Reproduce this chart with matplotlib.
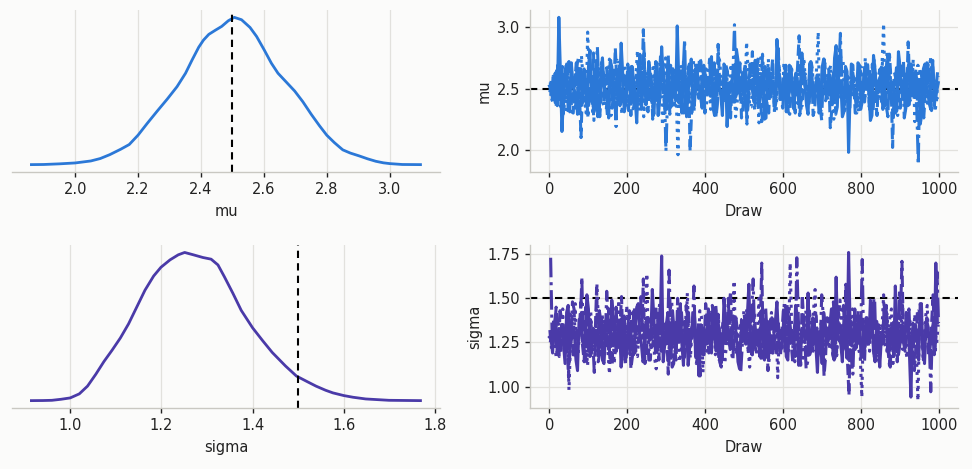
import numpy as np
import matplotlib
matplotlib.use("Agg")
import matplotlib.pyplot as plt

# posterior density of mu
mu_grid = [1.861, 1.900, 1.950, 2.000, 2.050, 2.080, 2.110, 2.145, 2.172, 2.200,
           2.229, 2.261, 2.293, 2.324, 2.351, 2.372, 2.393, 2.408, 2.425, 2.446,
           2.466, 2.487, 2.506, 2.529, 2.556, 2.577, 2.601, 2.624, 2.645, 2.672,
           2.698, 2.724, 2.751, 2.777, 2.800, 2.824, 2.840, 2.851, 2.875, 2.903,
           2.930, 2.956, 2.980, 3.000, 3.040, 3.098]
mu_dens = [0.020, 0.022, 0.032, 0.046, 0.077, 0.115, 0.175, 0.260, 0.333, 0.479,
           0.661, 0.854, 1.042, 1.235, 1.444, 1.652, 1.850, 1.960, 2.050, 2.115,
           2.174, 2.262, 2.315, 2.278, 2.158, 2.017, 1.809, 1.600, 1.444, 1.303,
           1.167, 1.000, 0.802, 0.625, 0.479, 0.364, 0.296, 0.250, 0.200, 0.156,
           0.110, 0.072, 0.048, 0.036, 0.022, 0.020]

sigma_grid = [0.915, 0.940, 0.960, 0.980, 1.000, 1.020, 1.038, 1.056, 1.074, 1.092,
              1.110, 1.128, 1.146, 1.164, 1.183, 1.199, 1.219, 1.237, 1.251, 1.270,
              1.291, 1.309, 1.324, 1.338, 1.357, 1.375, 1.400, 1.422, 1.443, 1.472,
              1.496, 1.520, 1.539, 1.560, 1.576, 1.600, 1.620, 1.648, 1.699, 1.768]
sigma_dens = [0.020, 0.022, 0.027, 0.050, 0.080, 0.170, 0.342, 0.603, 0.888, 1.142,
              1.411, 1.725, 2.099, 2.473, 2.788, 2.982, 3.147, 3.259, 3.311, 3.259,
              3.199, 3.162, 3.034, 2.773, 2.399, 2.025, 1.636, 1.351, 1.090, 0.790,
              0.566, 0.440, 0.342, 0.250, 0.192, 0.132, 0.095, 0.057, 0.027, 0.020]

# trace values, every 4th draw of each chain (chain c starts at draw c).
# *_a holds the even samples, *_b the odd ones in between
mu_chain0_a = [2.52, 2.41, 2.63, 3.08, 2.15, 2.58, 2.36, 2.71, 2.47, 2.29, 2.66, 2.54, 2.38, 2.81, 2.44, 2.60, 2.33, 2.75, 2.49, 2.26, 2.68, 2.55, 2.40, 2.87, 2.31,
               2.62, 2.45, 2.57, 2.22, 2.78, 2.50, 2.37, 2.69, 2.43, 2.59, 2.30, 2.84, 2.48, 2.64, 2.35, 2.53, 3.01, 2.42, 2.72, 2.27, 2.56, 2.39, 2.67, 2.51, 2.34,
               2.61, 2.46, 2.76, 2.28, 2.58, 2.44, 2.70, 2.19, 2.55, 2.39, 2.82, 2.47, 2.63, 2.32, 2.57, 2.50, 2.73, 2.36, 2.60, 2.25, 2.66, 2.43, 2.54, 2.90, 2.41,
               2.58, 2.31, 2.69, 2.47, 2.62, 2.37, 2.79, 2.52, 2.29, 2.65, 2.44, 2.56, 2.34, 2.74, 2.49, 2.61, 2.40, 2.85, 2.53, 2.27, 2.68, 1.98, 2.57, 2.45, 2.71,
               2.38, 2.63, 2.50, 2.24, 2.77, 2.46, 2.59, 2.33, 2.67, 2.42, 2.55, 2.30, 2.80, 2.48, 2.62, 2.36, 2.70, 2.44, 2.58, 2.21, 2.66, 2.51, 2.39, 2.73, 2.47]
mu_chain0_b = [2.49, 2.57, 2.36, 2.64, 2.43, 2.70, 2.31, 2.55, 2.46, 2.61, 2.38, 2.52, 2.67, 2.41, 2.58, 2.27, 2.63, 2.50, 2.44, 2.72, 2.35, 2.56, 2.48, 2.62, 2.39,
               2.53, 2.68, 2.42, 2.59, 2.33, 2.65, 2.47, 2.54, 2.29, 2.71, 2.45, 2.60, 2.37, 2.51, 2.66, 2.40, 2.57, 2.30, 2.62, 2.49, 2.74, 2.36, 2.55, 2.43, 2.69,
               2.46, 2.58, 2.34, 2.63, 2.51, 2.28, 2.67, 2.44, 2.56, 2.39, 2.73, 2.48, 2.60, 2.32, 2.54, 2.45, 2.68, 2.41, 2.59, 2.26, 2.64, 2.50, 2.37, 2.71, 2.47,
               2.55, 2.40, 2.66, 2.33, 2.58, 2.49, 2.62, 2.36, 2.70, 2.44, 2.53, 2.30, 2.67, 2.46, 2.59, 2.38, 2.75, 2.42, 2.56, 2.31, 2.64, 2.48, 2.52, 2.35, 2.69,
               2.43, 2.61, 2.50, 2.28, 2.65, 2.47, 2.57, 2.39, 2.72, 2.45, 2.54, 2.32, 2.68, 2.41, 2.60, 2.37, 2.63, 2.49, 2.56, 2.29, 2.70, 2.44, 2.58, 2.36, 2.62]
mu_chain1_a = [2.47, 2.60, 2.35, 2.55, 2.68, 2.42, 2.73, 2.31, 2.58, 2.45, 2.10, 2.66, 2.52, 2.38, 2.79, 2.49, 2.27, 2.64, 2.43, 2.57, 2.34, 2.83, 2.46, 2.61, 2.39,
               2.70, 2.28, 2.56, 2.44, 2.65, 2.98, 2.37, 2.53, 2.25, 2.72, 2.48, 2.60, 2.33, 2.77, 2.45, 2.58, 2.41, 2.67, 2.30, 2.54, 1.99, 2.62, 2.47, 2.75, 2.36,
               2.59, 2.43, 2.69, 2.32, 2.86, 2.51, 2.40, 2.64, 2.26, 2.57, 2.46, 2.71, 2.35, 2.61, 2.49, 2.80, 2.38, 2.55, 2.23, 2.68, 2.44, 2.60, 2.31, 2.76, 2.50,
               2.42, 2.65, 2.29, 2.58, 2.47, 2.93, 2.36, 2.62, 2.45, 2.70, 2.33, 2.56, 2.40, 2.74, 2.51, 2.18, 2.63, 2.48, 2.82, 2.37, 2.59, 2.44, 2.67, 2.30, 2.54,
               2.61, 2.39, 2.72, 2.46, 2.57, 2.28, 2.66, 2.49, 2.35, 2.78, 2.02, 2.60, 2.43, 2.69, 2.32, 2.88, 2.47, 2.56, 2.38, 2.64, 2.26, 2.71, 2.45, 2.58, 2.40]
mu_chain1_b = [2.58, 2.42, 2.69, 2.35, 2.53, 2.47, 2.64, 2.30, 2.71, 2.45, 2.56, 2.39, 2.62, 2.50, 2.33, 2.67, 2.44, 2.59, 2.27, 2.73, 2.48, 2.55, 2.36, 2.65, 2.41,
               2.52, 2.60, 2.34, 2.70, 2.46, 2.57, 2.31, 2.63, 2.49, 2.40, 2.76, 2.43, 2.54, 2.29, 2.66, 2.51, 2.38, 2.61, 2.45, 2.68, 2.32, 2.56, 2.47, 2.72, 2.37,
               2.59, 2.44, 2.65, 2.30, 2.53, 2.48, 2.69, 2.35, 2.58, 2.42, 2.63, 2.26, 2.70, 2.46, 2.55, 2.39, 2.67, 2.50, 2.34, 2.61, 2.45, 2.74, 2.38, 2.57, 2.43,
               2.64, 2.31, 2.52, 2.47, 2.68, 2.36, 2.59, 2.44, 2.71, 2.28, 2.56, 2.49, 2.62, 2.40, 2.66, 2.33, 2.54, 2.46, 2.73, 2.37, 2.60, 2.42, 2.58, 2.30, 2.65,
               2.48, 2.55, 2.35, 2.70, 2.44, 2.61, 2.39, 2.67, 2.27, 2.57, 2.50, 2.63, 2.34, 2.72, 2.45, 2.53, 2.41, 2.66, 2.36, 2.59, 2.47, 2.69, 2.32, 2.56, 2.43]
mu_chain2_a = [2.55, 2.38, 2.66, 2.44, 2.59, 2.31, 2.72, 2.48, 2.62, 2.35, 2.77, 2.42, 2.96, 2.53, 2.24, 2.67, 2.46, 2.58, 2.33, 2.74, 2.50, 2.40, 2.63, 2.29, 2.69,
               2.45, 2.57, 2.36, 2.81, 2.52, 2.27, 2.64, 2.43, 2.70, 2.39, 2.56, 2.20, 2.75, 2.49, 2.61, 2.34, 1.96, 2.68, 2.47, 2.58, 2.30, 2.73, 2.44, 2.62, 2.37,
               2.66, 2.48, 2.55, 2.32, 2.79, 2.43, 2.60, 2.26, 2.70, 2.51, 2.38, 2.64, 2.45, 2.88, 2.35, 2.57, 2.49, 2.22, 2.68, 2.41, 2.74, 2.53, 2.30, 2.61, 2.46,
               2.71, 2.34, 2.58, 2.44, 2.65, 2.28, 2.76, 2.50, 2.39, 2.63, 2.47, 2.96, 2.33, 2.60, 2.42, 2.69, 2.25, 2.55, 2.48, 2.73, 2.37, 2.62, 2.45, 2.58, 2.31,
               2.67, 2.43, 2.56, 2.35, 2.74, 2.49, 2.61, 3.03, 2.40, 2.66, 2.28, 2.58, 2.46, 2.71, 2.34, 2.63, 2.50, 2.23, 2.69, 2.44, 2.57, 2.38, 2.76, 2.52, 2.41]
mu_chain2_b = [2.41, 2.63, 2.47, 2.56, 2.34, 2.68, 2.52, 2.39, 2.71, 2.45, 2.59, 2.30, 2.64, 2.48, 2.55, 2.37, 2.74, 2.43, 2.60, 2.28, 2.66, 2.50, 2.42, 2.69, 2.35,
               2.57, 2.46, 2.62, 2.32, 2.70, 2.49, 2.54, 2.38, 2.65, 2.44, 2.73, 2.31, 2.58, 2.47, 2.61, 2.36, 2.67, 2.51, 2.40, 2.56, 2.29, 2.72, 2.45, 2.59, 2.43,
               2.64, 2.33, 2.55, 2.48, 2.70, 2.37, 2.62, 2.44, 2.57, 2.27, 2.68, 2.50, 2.41, 2.65, 2.35, 2.58, 2.46, 2.75, 2.39, 2.53, 2.47, 2.63, 2.31, 2.69, 2.44,
               2.56, 2.38, 2.66, 2.49, 2.60, 2.34, 2.72, 2.45, 2.54, 2.40, 2.67, 2.30, 2.59, 2.48, 2.63, 2.36, 2.57, 2.43, 2.70, 2.32, 2.61, 2.47, 2.55, 2.39, 2.68,
               2.46, 2.58, 2.33, 2.64, 2.50, 2.42, 2.71, 2.37, 2.56, 2.45, 2.62, 2.28, 2.67, 2.49, 2.53, 2.40, 2.74, 2.44, 2.59, 2.35, 2.65, 2.48, 2.57, 2.31, 2.60]
mu_chain3_a = [2.44, 2.61, 2.37, 2.54, 2.29, 2.70, 2.48, 2.59, 2.34, 2.76, 2.45, 2.63, 2.26, 2.57, 2.41, 2.84, 2.50, 2.36, 2.67, 2.43, 2.58, 2.19, 2.72, 2.47, 2.60,
               2.32, 2.68, 2.44, 2.55, 2.38, 2.79, 2.49, 2.62, 2.28, 2.57, 2.46, 2.71, 1.99, 2.60, 2.35, 2.66, 2.42, 2.53, 2.90, 2.40, 2.58, 2.31, 2.69, 2.45, 2.63,
               2.37, 2.74, 2.50, 2.27, 2.61, 2.46, 2.57, 2.33, 2.48, 3.02, 2.65, 2.39, 2.56, 2.21, 2.70, 2.44, 2.59, 2.36, 2.78, 2.51, 2.30, 2.64, 2.47, 2.83, 2.40,
               2.57, 2.34, 2.68, 2.45, 2.61, 2.29, 2.73, 2.49, 2.38, 2.66, 2.43, 2.58, 2.24, 2.71, 2.52, 2.40, 2.64, 2.35, 2.95, 2.47, 2.59, 2.32, 2.69, 2.44, 2.56,
               2.39, 2.75, 2.48, 2.30, 2.63, 2.45, 2.58, 2.36, 2.81, 2.50, 2.27, 2.67, 2.43, 2.60, 2.34, 2.72, 2.47, 2.55, 1.88, 2.64, 2.41, 2.70, 2.33, 2.57, 2.49]
mu_chain3_b = [2.53, 2.39, 2.66, 2.45, 2.60, 2.32, 2.57, 2.48, 2.70, 2.36, 2.62, 2.44, 2.55, 2.29, 2.68, 2.50, 2.41, 2.64, 2.34, 2.59, 2.47, 2.73, 2.38, 2.56, 2.43,
               2.67, 2.31, 2.61, 2.49, 2.54, 2.37, 2.72, 2.45, 2.58, 2.28, 2.65, 2.51, 2.40, 2.69, 2.35, 2.57, 2.46, 2.63, 2.33, 2.70, 2.48, 2.55, 2.42, 2.66, 2.30,
               2.59, 2.44, 2.71, 2.37, 2.56, 2.50, 2.64, 2.27, 2.62, 2.46, 2.53, 2.39, 2.68, 2.43, 2.60, 2.32, 2.74, 2.47, 2.55, 2.36, 2.65, 2.49, 2.41, 2.58, 2.34,
               2.69, 2.45, 2.57, 2.30, 2.63, 2.48, 2.54, 2.38, 2.72, 2.44, 2.61, 2.35, 2.66, 2.50, 2.42, 2.59, 2.29, 2.67, 2.46, 2.56, 2.37, 2.70, 2.43, 2.62, 2.33,
               2.58, 2.47, 2.64, 2.31, 2.55, 2.49, 2.71, 2.36, 2.60, 2.44, 2.53, 2.40, 2.68, 2.26, 2.63, 2.48, 2.57, 2.34, 2.66, 2.45, 2.59, 2.38, 2.72, 2.42, 2.56]

sigma_chain0_a = [1.28, 1.19, 1.41, 1.22, 1.35, 1.13, 1.46, 1.26, 1.31, 1.09, 1.38, 1.24, 1.52, 1.17, 1.33, 1.27, 1.43, 1.15, 1.30, 1.21, 1.49, 1.25, 1.36, 1.11, 1.40,
                  1.23, 1.32, 1.18, 1.45, 1.29, 1.14, 1.37, 1.26, 1.55, 1.20, 1.34, 1.74, 1.24, 1.42, 1.16, 1.31, 1.28, 1.47, 1.12, 1.35, 1.22, 1.39, 1.27, 1.06, 1.33,
                  1.25, 1.44, 1.19, 1.30, 1.36, 1.13, 1.50, 1.27, 1.21, 1.40, 1.29, 1.10, 1.34, 1.24, 1.58, 1.18, 1.32, 1.26, 1.43, 1.15, 1.37, 1.22, 1.29, 1.48, 1.20,
                  1.31, 1.17, 1.39, 1.25, 1.46, 1.12, 1.33, 1.28, 1.53, 1.21, 1.36, 1.08, 1.30, 1.42, 1.24, 1.35, 1.19, 1.62, 1.27, 1.14, 1.38, 1.76, 1.23, 1.44, 1.29,
                  1.16, 1.34, 1.26, 1.49, 1.20, 1.37, 1.11, 1.31, 1.45, 1.24, 1.29, 1.57, 1.18, 1.35, 1.23, 1.41, 0.94, 1.30, 1.27, 1.47, 1.15, 1.38, 1.22, 1.33, 1.70]
sigma_chain0_b = [1.27, 1.35, 1.18, 1.31, 1.24, 1.42, 1.21, 1.33, 1.15, 1.38, 1.26, 1.29, 1.44, 1.19, 1.32, 1.23, 1.37, 1.13, 1.30, 1.25, 1.40, 1.20, 1.34, 1.28, 1.16,
                  1.36, 1.22, 1.31, 1.47, 1.24, 1.17, 1.33, 1.27, 1.39, 1.21, 1.30, 1.14, 1.35, 1.26, 1.43, 1.19, 1.32, 1.24, 1.37, 1.12, 1.29, 1.41, 1.22, 1.34, 1.18,
                  1.30, 1.25, 1.45, 1.20, 1.33, 1.16, 1.38, 1.27, 1.23, 1.36, 1.14, 1.31, 1.26, 1.40, 1.21, 1.34, 1.29, 1.17, 1.43, 1.24, 1.32, 1.19, 1.37, 1.28, 1.22,
                  1.35, 1.15, 1.30, 1.25, 1.41, 1.20, 1.33, 1.27, 1.18, 1.39, 1.23, 1.31, 1.13, 1.36, 1.26, 1.44, 1.21, 1.29, 1.24, 1.38, 1.16, 1.34, 1.28, 1.22, 1.40,
                  1.19, 1.32, 1.25, 1.37, 1.14, 1.30, 1.27, 1.46, 1.21, 1.33, 1.17, 1.35, 1.24, 1.29, 1.42, 1.20, 1.31, 1.26, 1.15, 1.38, 1.23, 1.34, 1.28, 1.18, 1.36]
sigma_chain1_a = [1.32, 1.24, 1.45, 1.17, 1.36, 1.27, 1.05, 1.40, 1.21, 1.33, 1.48, 1.14, 1.29, 1.38, 1.23, 1.56, 1.19, 1.31, 1.26, 1.44, 1.12, 1.35, 1.28, 1.51, 1.20,
                  1.34, 1.10, 1.42, 1.25, 1.30, 1.61, 1.18, 1.37, 1.23, 1.46, 1.15, 1.32, 1.27, 1.07, 1.39, 1.22, 1.50, 1.29, 1.16, 1.35, 1.26, 1.43, 1.13, 1.31, 1.24,
                  1.47, 1.19, 1.33, 1.28, 1.41, 1.11, 1.36, 1.25, 1.54, 1.21, 1.30, 1.15, 1.38, 1.26, 1.44, 1.18, 1.32, 1.23, 1.70, 1.27, 1.09, 1.40, 1.24, 1.34, 1.17,
                  1.45, 1.22, 1.31, 1.13, 1.37, 1.28, 1.52, 1.20, 1.35, 1.25, 1.42, 1.16, 1.30, 1.06, 1.39, 1.27, 1.48, 1.19, 1.33, 1.24, 1.58, 0.95, 1.36, 1.21, 1.43,
                  1.26, 1.14, 1.38, 1.29, 1.50, 1.18, 1.34, 1.23, 1.46, 1.12, 1.31, 1.27, 1.41, 1.71, 1.20, 1.36, 1.25, 1.09, 1.44, 1.28, 1.17, 1.39, 1.22, 1.52, 1.30]
sigma_chain1_b = [1.22, 1.30, 1.37, 1.19, 1.33, 1.25, 1.41, 1.16, 1.29, 1.35, 1.23, 1.45, 1.20, 1.31, 1.27, 1.14, 1.38, 1.24, 1.32, 1.18, 1.40, 1.26, 1.34, 1.21, 1.29,
                  1.43, 1.17, 1.36, 1.25, 1.30, 1.13, 1.39, 1.22, 1.33, 1.27, 1.46, 1.19, 1.31, 1.24, 1.37, 1.15, 1.34, 1.28, 1.21, 1.42, 1.26, 1.30, 1.18, 1.35, 1.23,
                  1.39, 1.20, 1.32, 1.27, 1.14, 1.36, 1.25, 1.44, 1.22, 1.29, 1.17, 1.38, 1.26, 1.33, 1.19, 1.41, 1.24, 1.30, 1.16, 1.35, 1.28, 1.21, 1.37, 1.25, 1.31,
                  1.18, 1.43, 1.23, 1.34, 1.27, 1.12, 1.36, 1.24, 1.30, 1.20, 1.40, 1.26, 1.33, 1.17, 1.38, 1.22, 1.29, 1.45, 1.25, 1.31, 1.15, 1.37, 1.23, 1.34, 1.28,
                  1.20, 1.39, 1.26, 1.32, 1.16, 1.35, 1.24, 1.42, 1.21, 1.30, 1.27, 1.14, 1.38, 1.25, 1.33, 1.19, 1.36, 1.23, 1.44, 1.28, 1.31, 1.17, 1.35, 1.22, 1.29]
sigma_chain2_a = [1.25, 1.38, 1.16, 1.33, 1.44, 1.21, 0.98, 1.30, 1.47, 1.19, 1.36, 1.27, 1.12, 1.42, 1.24, 1.58, 1.18, 1.34, 1.29, 1.07, 1.40, 1.22, 1.49, 1.26, 1.15,
                  1.37, 1.23, 1.45, 1.17, 1.32, 1.28, 1.64, 1.20, 1.35, 1.10, 1.41, 1.26, 1.31, 1.14, 1.48, 1.24, 1.38, 1.19, 1.29, 1.53, 1.16, 1.34, 1.22, 1.43, 1.08,
                  1.33, 1.27, 1.46, 1.18, 1.39, 1.24, 1.13, 1.36, 1.30, 1.60, 1.21, 1.35, 1.26, 1.44, 1.11, 1.32, 1.23, 1.50, 1.17, 1.37, 1.28, 1.42, 1.20, 1.05, 1.34,
                  1.25, 1.47, 1.70, 1.19, 1.38, 1.29, 1.14, 1.43, 1.26, 1.33, 1.55, 1.22, 1.36, 1.12, 1.40, 1.27, 1.31, 1.18, 1.49, 1.24, 1.35, 1.09, 1.44, 1.28, 1.21,
                  0.94, 1.37, 1.25, 1.45, 1.16, 1.32, 1.27, 1.52, 1.20, 1.39, 1.13, 1.34, 1.29, 1.48, 1.22, 1.36, 1.10, 1.41, 0.92, 1.31, 1.26, 1.46, 1.18, 1.35, 1.24]
sigma_chain2_b = [1.31, 1.21, 1.36, 1.26, 1.19, 1.40, 1.24, 1.33, 1.15, 1.38, 1.28, 1.22, 1.43, 1.27, 1.17, 1.34, 1.25, 1.39, 1.20, 1.31, 1.13, 1.36, 1.26, 1.30, 1.46,
                  1.23, 1.35, 1.18, 1.32, 1.27, 1.41, 1.21, 1.29, 1.16, 1.37, 1.25, 1.33, 1.19, 1.44, 1.24, 1.30, 1.14, 1.38, 1.26, 1.22, 1.35, 1.28, 1.17, 1.40, 1.25,
                  1.32, 1.20, 1.37, 1.27, 1.15, 1.34, 1.23, 1.42, 1.29, 1.18, 1.36, 1.24, 1.31, 1.21, 1.45, 1.26, 1.33, 1.16, 1.38, 1.25, 1.30, 1.19, 1.35, 1.28, 1.22,
                  1.40, 1.24, 1.32, 1.14, 1.37, 1.27, 1.20, 1.34, 1.26, 1.43, 1.18, 1.31, 1.25, 1.36, 1.21, 1.29, 1.15, 1.39, 1.27, 1.33, 1.22, 1.41, 1.24, 1.30, 1.17,
                  1.35, 1.26, 1.20, 1.38, 1.28, 1.13, 1.34, 1.23, 1.31, 1.44, 1.19, 1.36, 1.25, 1.29, 1.16, 1.37, 1.27, 1.21, 1.33, 1.24, 1.40, 1.18, 1.32, 1.26, 1.35]
sigma_chain3_a = [1.73, 1.29, 1.20, 1.43, 1.26, 1.35, 1.14, 1.48, 1.23, 1.31, 1.62, 1.18, 1.37, 1.27, 1.08, 1.41, 1.25, 1.33, 1.54, 1.16, 1.30, 1.45, 1.22, 1.36, 1.12,
                  1.28, 1.44, 1.19, 1.34, 1.51, 1.24, 1.39, 1.15, 1.30, 1.27, 1.47, 1.21, 1.36, 1.66, 1.11, 1.32, 1.26, 1.42, 1.17, 1.38, 1.23, 1.57, 1.29, 1.06, 1.35,
                  1.20, 1.40, 1.28, 1.46, 1.14, 1.33, 1.25, 1.50, 1.19, 1.37, 1.30, 1.08, 1.43, 1.24, 1.34, 1.61, 1.18, 1.31, 1.27, 1.45, 1.13, 1.39, 1.22, 1.36, 1.28,
                  1.48, 1.17, 1.32, 1.25, 1.73, 1.21, 1.38, 1.10, 1.43, 1.27, 1.34, 1.19, 1.52, 1.24, 1.30, 1.40, 1.15, 1.37, 1.26, 1.46, 1.20, 1.33, 1.07, 1.42, 1.28,
                  1.72, 1.23, 1.36, 1.29, 1.49, 1.16, 1.34, 1.25, 1.41, 1.11, 1.38, 1.27, 1.55, 1.21, 1.32, 1.44, 1.18, 1.35, 1.26, 1.47, 1.13, 1.31, 0.97, 1.39, 1.65]
sigma_chain3_b = [1.26, 1.34, 1.17, 1.39, 1.23, 1.30, 1.28, 1.44, 1.20, 1.33, 1.25, 1.14, 1.37, 1.27, 1.31, 1.19, 1.41, 1.24, 1.35, 1.16, 1.29, 1.26, 1.38, 1.21, 1.32,
                  1.18, 1.43, 1.25, 1.30, 1.22, 1.36, 1.15, 1.33, 1.27, 1.40, 1.20, 1.31, 1.24, 1.35, 1.13, 1.38, 1.26, 1.29, 1.46, 1.22, 1.34, 1.17, 1.37, 1.25, 1.31,
                  1.21, 1.42, 1.26, 1.33, 1.18, 1.36, 1.24, 1.30, 1.15, 1.39, 1.27, 1.23, 1.34, 1.20, 1.41, 1.25, 1.32, 1.16, 1.37, 1.28, 1.22, 1.35, 1.19, 1.30, 1.26,
                  1.44, 1.23, 1.31, 1.17, 1.38, 1.25, 1.29, 1.14, 1.36, 1.27, 1.33, 1.21, 1.40, 1.24, 1.30, 1.18, 1.35, 1.26, 1.42, 1.22, 1.32, 1.16, 1.37, 1.25, 1.29,
                  1.20, 1.39, 1.27, 1.34, 1.15, 1.31, 1.24, 1.43, 1.21, 1.36, 1.26, 1.18, 1.33, 1.28, 1.38, 1.22, 1.30, 1.25, 1.41, 1.17, 1.35, 1.27, 1.32, 1.19, 1.36]

mu_ref = 2.5
sigma_ref = 1.5

chain_starts = [0, 1, 2, 3]
thin = 4
chain_styles = ["-", "--", ":", "-."]

bg = "#fbfbfa"
grid_col = "#e2e1dd"
spine_col = "#c9c8c2"
text_col = "#222222"
blue = "#2b78d7"
purple = "#4a3aa8"

plt.rcParams["font.family"] = "DejaVu Sans"
plt.rcParams["font.size"] = 10.5


def merge(a, b):
    out = []
    for x, y in zip(a, b):
        out += [x, y]
    longer = a if len(a) > len(b) else b
    return out + list(longer[min(len(a), len(b)):])


mu_chains = [merge(mu_chain0_a, mu_chain0_b), merge(mu_chain1_a, mu_chain1_b),
             merge(mu_chain2_a, mu_chain2_b), merge(mu_chain3_a, mu_chain3_b)]
sigma_chains = [merge(sigma_chain0_a, sigma_chain0_b), merge(sigma_chain1_a, sigma_chain1_b),
                merge(sigma_chain2_a, sigma_chain2_b), merge(sigma_chain3_a, sigma_chain3_b)]

fig = plt.figure(figsize=(9.72, 4.69), dpi=100, facecolor=bg)

rects = {
    "kde_top": [0.0123, 0.6333, 0.4403, 0.3454],
    "trace_top": [0.5453, 0.6333, 0.4403, 0.3454],
    "kde_bot": [0.0123, 0.1300, 0.4403, 0.3475],
    "trace_bot": [0.5453, 0.1300, 0.4403, 0.3475],
}


def style_ax(ax, left_spine):
    ax.set_facecolor(bg)
    for side in ["top", "right"]:
        ax.spines[side].set_visible(False)
    ax.spines["left"].set_visible(left_spine)
    for side in ["left", "bottom"]:
        ax.spines[side].set_color(spine_col)
        ax.spines[side].set_linewidth(1.0)
    ax.tick_params(colors=text_col, length=3.5, width=1.0, labelsize=10.5)
    ax.set_axisbelow(True)


def kde_panel(ax, grid, dens, ref, color, name):
    style_ax(ax, False)
    ax.plot(grid, dens, color=color, lw=2.0, solid_joinstyle="round")
    ax.axvline(ref, color="black", ls=(0, (3.5, 2.5)), lw=1.5)
    ax.set_yticks([])
    ax.grid(axis="x", color=grid_col, lw=0.9)
    ax.set_xlabel(name, color=text_col, fontsize=10.5, labelpad=5)


def trace_panel(ax, chains, ref, color, name):
    style_ax(ax, True)
    # reference line sits under the traces, only its ends show
    ax.axhline(ref, color="black", ls=(0, (3.5, 2.5)), lw=1.5, zorder=1.5)
    for start, vals, ls in zip(chain_starts, chains, chain_styles):
        draws = start + thin * np.arange(len(vals))
        ax.plot(draws, vals, color=color, ls=ls, lw=2.2, zorder=2)
    ax.grid(True, color=grid_col, lw=0.9)
    ax.set_xticks([0, 200, 400, 600, 800, 1000])
    ax.set_xlabel("Draw", color=text_col, fontsize=10.5, labelpad=5)
    ax.set_ylabel(name, color=text_col, fontsize=10.5, labelpad=4)


ax1 = fig.add_axes(rects["kde_top"])
kde_panel(ax1, mu_grid, mu_dens, mu_ref, blue, "mu")
ax1.set_xticks([2.0, 2.2, 2.4, 2.6, 2.8, 3.0])

ax2 = fig.add_axes(rects["trace_top"])
trace_panel(ax2, mu_chains, mu_ref, blue, "mu")
ax2.set_yticks([2.0, 2.5, 3.0])

ax3 = fig.add_axes(rects["kde_bot"])
kde_panel(ax3, sigma_grid, sigma_dens, sigma_ref, purple, "sigma")
ax3.set_xticks([1.0, 1.2, 1.4, 1.6, 1.8])

ax4 = fig.add_axes(rects["trace_bot"])
trace_panel(ax4, sigma_chains, sigma_ref, purple, "sigma")
ax4.set_yticks([1.0, 1.25, 1.5, 1.75])

fig.savefig("out.png", dpi=100, facecolor=bg)
